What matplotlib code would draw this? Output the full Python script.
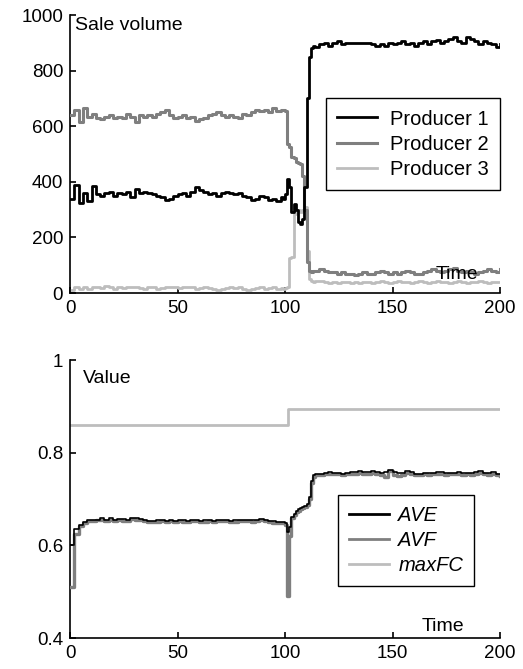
import matplotlib
matplotlib.use("Agg")
import matplotlib.pyplot as plt
import numpy as np

plt.rcParams['font.family'] = ['Liberation Sans', 'DejaVu Sans']

# time grid: coarse before/after the switch, fine around it
t_a = list(range(0, 100, 2))
t_b = list(range(99, 115))
t_c = list(range(116, 201, 2))

# sale volume
p1_a = [340, 390, 325, 360, 330, 385, 355, 350, 360, 365,
        350, 360, 355, 365, 345, 375, 360, 365, 360, 355,
        350, 345, 335, 340, 350, 355, 360, 350, 365, 380,
        370, 365, 355, 360, 350, 360, 365, 360, 355, 360,
        350, 345, 335, 340, 350, 345, 335, 340, 330, 345]
p1_b = [340, 355, 410, 380, 290, 320, 300, 255, 250, 265, 380, 700, 850, 880, 890, 885]
p1_c = [895, 900, 890, 900, 905, 895, 900, 900, 900, 900,
        900, 900, 895, 890, 895, 890, 900, 895, 900, 905,
        895, 900, 890, 900, 905, 895, 905, 910, 900, 905,
        915, 920, 905, 900, 920, 915, 905, 895, 905, 900,
        895, 885, 895]

p2_a = [640, 660, 615, 665, 635, 645, 630, 625, 635, 640,
        630, 635, 630, 645, 635, 615, 640, 635, 640, 635,
        645, 650, 660, 640, 630, 635, 640, 630, 635, 620,
        625, 630, 640, 645, 650, 640, 635, 640, 635, 630,
        645, 640, 650, 660, 655, 660, 650, 665, 655, 660]
p2_b = [660, 655, 535, 525, 490, 485, 470, 468, 465, 420, 300, 110, 80, 75, 80, 78]
p2_c = [85, 80, 75, 75, 70, 75, 70, 70, 65, 70,
        75, 70, 70, 75, 80, 75, 70, 75, 70, 75,
        80, 75, 70, 70, 75, 80, 85, 80, 75, 80,
        85, 90, 80, 75, 80, 75, 70, 75, 80, 85,
        80, 75, 85]

p3_a = [10, 20, 15, 20, 15, 20, 20, 18, 25, 20,
        15, 20, 18, 20, 22, 20, 18, 15, 20, 20,
        15, 18, 20, 22, 20, 18, 20, 22, 20, 15,
        18, 20, 18, 15, 12, 15, 18, 20, 18, 20,
        15, 12, 15, 18, 20, 15, 18, 20, 15, 18]
p3_b = [15, 18, 20, 125, 130, 285, 300, 300, 290, 300, 310, 150, 50, 45, 40, 42]
p3_c = [45, 40, 35, 40, 35, 40, 38, 35, 40, 35,
        40, 38, 35, 40, 42, 40, 35, 40, 45, 38,
        40, 35, 40, 45, 40, 35, 40, 42, 38, 40,
        35, 40, 45, 40, 35, 38, 40, 42, 38, 35,
        40, 38, 40]

# values
ave_a = [0.600, 0.635, 0.645, 0.650, 0.655, 0.655, 0.655, 0.658, 0.655, 0.658,
         0.655, 0.656, 0.656, 0.655, 0.658, 0.658, 0.657, 0.655, 0.653, 0.653,
         0.654, 0.655, 0.653, 0.655, 0.653, 0.655, 0.654, 0.653, 0.655, 0.655,
         0.653, 0.654, 0.654, 0.653, 0.655, 0.654, 0.655, 0.653, 0.654, 0.655,
         0.655, 0.654, 0.654, 0.655, 0.656, 0.654, 0.652, 0.652, 0.651, 0.650]
ave_b = [0.650, 0.648, 0.628, 0.640, 0.662, 0.668, 0.675, 0.678, 0.680, 0.682,
         0.685, 0.690, 0.705, 0.740, 0.752, 0.755]
ave_c = [0.755, 0.757, 0.758, 0.756, 0.757, 0.755, 0.757, 0.758, 0.758, 0.760,
         0.758, 0.758, 0.760, 0.758, 0.757, 0.758, 0.763, 0.758, 0.756, 0.757,
         0.760, 0.758, 0.755, 0.755, 0.757, 0.756, 0.757, 0.758, 0.758, 0.756,
         0.757, 0.757, 0.758, 0.756, 0.757, 0.756, 0.758, 0.760, 0.757, 0.756,
         0.758, 0.755, 0.754]

avf_a = [0.510, 0.625, 0.642, 0.648, 0.653, 0.652, 0.654, 0.655, 0.652, 0.655,
         0.653, 0.654, 0.653, 0.652, 0.656, 0.655, 0.654, 0.652, 0.651, 0.650,
         0.651, 0.653, 0.651, 0.652, 0.650, 0.653, 0.651, 0.651, 0.652, 0.653,
         0.651, 0.651, 0.652, 0.650, 0.652, 0.652, 0.653, 0.651, 0.651, 0.652,
         0.653, 0.652, 0.651, 0.653, 0.654, 0.652, 0.650, 0.649, 0.649, 0.648]
avf_b = [0.648, 0.645, 0.490, 0.620, 0.660, 0.665, 0.672, 0.675, 0.678, 0.680,
         0.683, 0.688, 0.700, 0.735, 0.748, 0.752]
avf_c = [0.752, 0.754, 0.755, 0.753, 0.754, 0.752, 0.754, 0.755, 0.755, 0.757,
         0.755, 0.755, 0.757, 0.755, 0.752, 0.748, 0.760, 0.752, 0.750, 0.752,
         0.756, 0.754, 0.752, 0.751, 0.753, 0.752, 0.754, 0.755, 0.754, 0.752,
         0.753, 0.753, 0.755, 0.752, 0.754, 0.752, 0.755, 0.757, 0.754, 0.752,
         0.755, 0.752, 0.750]

mfc_t = [0, 101.5, 200]
mfc = [0.86, 0.895, 0.895]

t = t_a + t_b + t_c
p1 = p1_a + p1_b + p1_c
p2 = p2_a + p2_b + p2_c
p3 = p3_a + p3_b + p3_c
ave = ave_a + ave_b + ave_c
avf = avf_a + avf_b + avf_c

BLACK = '#000000'
GRAY = '#7f7f7f'
LIGHT = '#bdbdbd'
FS = 14
LFS = 14.5

fig = plt.figure(figsize=(5.23, 6.69), dpi=100)
ax1 = fig.add_axes([0.134, 0.562, 0.822, 0.4155])
ax2 = fig.add_axes([0.134, 0.0463, 0.822, 0.4155])

ax1.plot(t, p3, color=LIGHT, lw=2, drawstyle='steps-post', label='Producer 3', zorder=2)
ax1.plot(t, p2, color=GRAY, lw=2.2, drawstyle='steps-post', label='Producer 2', zorder=3)
ax1.plot(t, p1, color=BLACK, lw=2, drawstyle='steps-post', label='Producer 1', zorder=4)
h, l = ax1.get_legend_handles_labels()
ax1.legend(h[::-1], l[::-1], loc='upper right', bbox_to_anchor=(1.0, 0.70),
           borderaxespad=0, fancybox=False, framealpha=1, edgecolor='black',
           fontsize=LFS, handlelength=2.0, handletextpad=0.65, borderpad=0.55,
           labelspacing=0.3)
ax1.set_xlim(0, 200)
ax1.set_ylim(0, 1000)
ax1.set_yticks([0, 200, 400, 600, 800, 1000])
ax1.text(2.5, 964, 'Sale volume', fontsize=FS, va='center', ha='left')
ax1.text(180, 65, 'Time', fontsize=FS, va='center', ha='center')

ax2.plot(mfc_t, mfc, color=LIGHT, lw=2, drawstyle='steps-post', label='maxFC', zorder=2)
ax2.plot(t, avf, color=GRAY, lw=2.4, drawstyle='steps-post', label='AVF', zorder=3)
ax2.plot(t, ave, color=BLACK, lw=1.2, drawstyle='steps-post', label='AVE', zorder=4)
h, l = ax2.get_legend_handles_labels()
leg = ax2.legend(h[::-1], l[::-1], loc='upper right', bbox_to_anchor=(0.94, 0.514),
                 borderaxespad=0, fancybox=False, framealpha=1, edgecolor='black',
                 prop={'style': 'italic', 'size': LFS}, handlelength=2.0,
                 handletextpad=0.45, borderpad=0.55, labelspacing=0.3)
for line in leg.get_lines():
    line.set_linewidth(2)
ax2.set_xlim(0, 200)
ax2.set_ylim(0.4, 1)
ax2.set_yticks([0.4, 0.6, 0.8, 1.0])
ax2.set_yticklabels(['0.4', '0.6', '0.8', '1'])
ax2.text(6, 0.961, 'Value', fontsize=FS, va='center', ha='left')
ax2.text(173.5, 0.424, 'Time', fontsize=FS, va='center', ha='center')

for ax in (ax1, ax2):
    ax.set_xticks([0, 50, 100, 150, 200])
    ax.spines['top'].set_visible(False)
    ax.spines['right'].set_visible(False)
    ax.spines['left'].set_linewidth(1.2)
    ax.spines['bottom'].set_linewidth(1.2)
    ax.tick_params(direction='in', length=4, width=1.2, labelsize=13.5, pad=5)

fig.savefig('out.png', dpi=100)
